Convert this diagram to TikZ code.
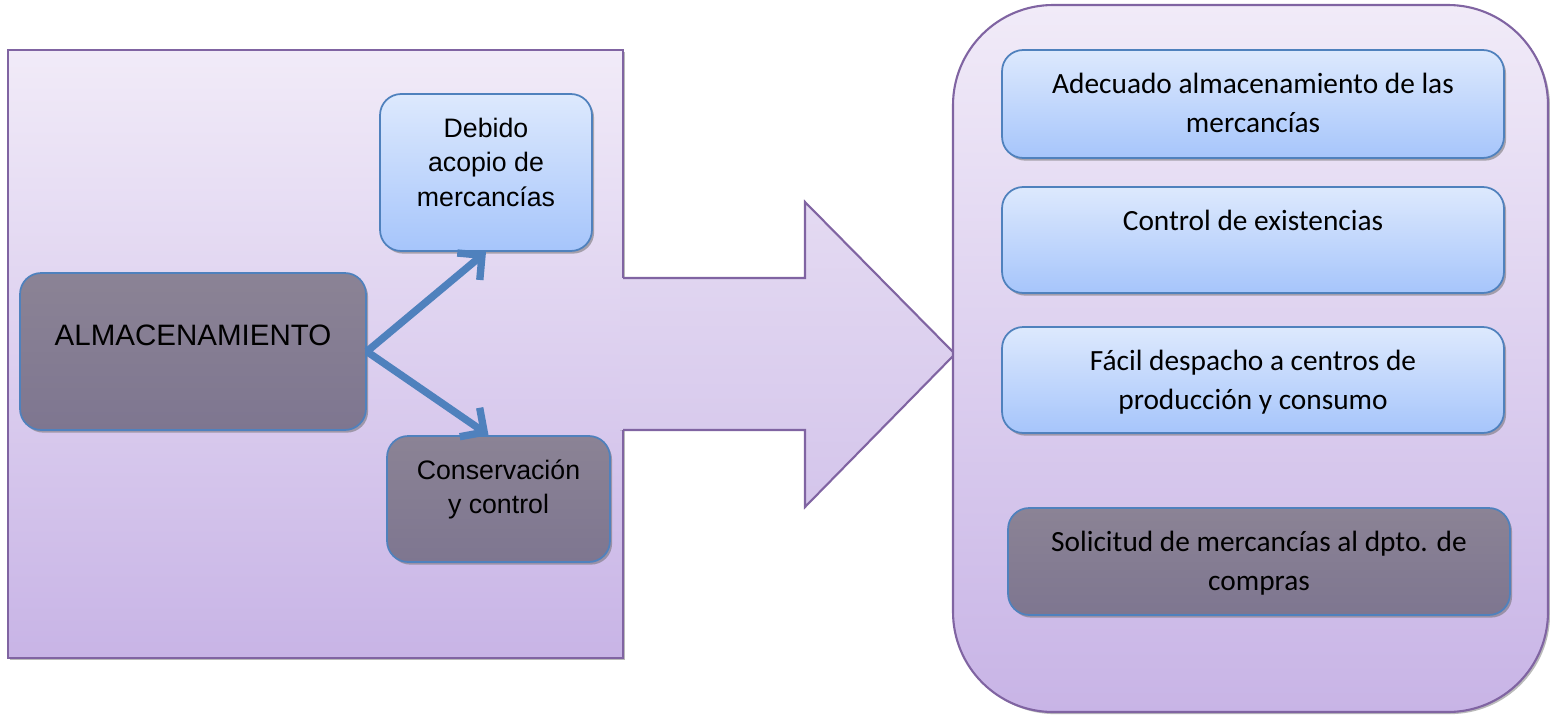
\documentclass[tikz,border=0pt]{standalone}
\usepackage{fontspec}
\setmainfont{Liberation Sans}
\newfontfamily\carlito{Carlito}
\usepackage{tikz}
\usetikzlibrary{arrows.meta,positioning,shadows,calc}

\definecolor{panelline}{HTML}{8064A2}
\definecolor{paneltop}{HTML}{F1EBF8}
\definecolor{panelbot}{HTML}{C8B4E6}
\definecolor{arrowtop}{HTML}{E4DAF2}
\definecolor{arrowbot}{HTML}{D4C5EB}
\definecolor{bluetop}{HTML}{DDE9FD}
\definecolor{bluebot}{HTML}{A6C5FB}
\definecolor{blueline}{HTML}{4F81BD}
\definecolor{greytop}{HTML}{8B8395}
\definecolor{greybot}{HTML}{7E7690}

\newcommand{\boxtext}[3]{\parbox[c][#1][t]{#2}{\centering\rule{0pt}{0.87cm}#3}}

\begin{document}
\begin{tikzpicture}[x=0.02cm, y=-0.02cm,
  panel/.style={draw=panelline, line width=1.2pt, top color=paneltop, bottom color=panelbot,
    drop shadow={shadow xshift=1.2pt, shadow yshift=-1.2pt, fill=black!45, opacity=0.6}},
  item/.style={draw=blueline, line width=1pt, inner sep=0pt, rounded corners=12pt,
    drop shadow={shadow xshift=1.2pt, shadow yshift=-1.5pt, fill=black!60, opacity=0.5}},
  lightitem/.style={item, top color=bluetop, bottom color=bluebot},
  darkitem/.style={item, top color=greytop, bottom color=greybot},
  lfont/.style={font=\fontsize{15.2}{19.6}\selectfont},
  rfont/.style={font=\carlito\fontsize{16.7}{22.4}\selectfont},
  link/.style={-{Straight Barb[length=10pt, width=20pt]}, line width=4.2pt, draw=blueline}
]
\useasboundingbox (0,0) rectangle (1550,717);

% Left panel
\draw[panel] (8,50) rectangle (623,658);

% Big arrow
\fill[top color=arrowtop, bottom color=arrowbot] (620,278) -- (805,278) -- (805,202) -- (955,354)
  -- (805,507) -- (805,430) -- (620,430) -- cycle;
\draw[panelline, line width=1.2pt] (623,278) -- (805,278) -- (805,202) -- (955,354)
  -- (805,507) -- (805,430) -- (623,430);

% Right panel
\draw[panel, rounded corners=57pt] (953,5) rectangle (1548,712);

% Left items
\node[darkitem, font=\fontsize{16.8}{20}\selectfont] (almac) at (193,351.5)
  {\boxtext{3.14cm}{6.92cm}{\rule{0pt}{1.44cm}ALMACENAMIENTO}};
\node[lightitem, lfont] (debido) at (486,172.5)
  {\boxtext{3.14cm}{4.24cm}{Debido\\ acopio de\\ mercancías}};
\node[darkitem, lfont] (cons) at (498.5,499)
  {\boxtext{2.52cm}{4.46cm}{Conservación\\ y control}};

% Links
\draw[link] (almac.east) -- (debido.south);
\draw[link] (almac.east) -- ($(cons.north)+(-10,0)$);

% Right items
\node[lightitem, rfont] (adecuado) at (1253,104)
  {\boxtext{2.16cm}{10.04cm}{Adecuado almacenamiento de las\\ mercancías}};
\node[lightitem, rfont] (control) at (1253,240)
  {\boxtext{2.12cm}{10.04cm}{Control de existencias}};
\node[lightitem, rfont] (despacho) at (1253,380)
  {\boxtext{2.12cm}{10.04cm}{Fácil despacho a centros de\\ producción y consumo}};
\node[darkitem, rfont] (solicitud) at (1259,561.5)
  {\boxtext{2.14cm}{10.04cm}{Solicitud de mercancías al dpto. de\\ compras}};

\end{tikzpicture}
\end{document}
